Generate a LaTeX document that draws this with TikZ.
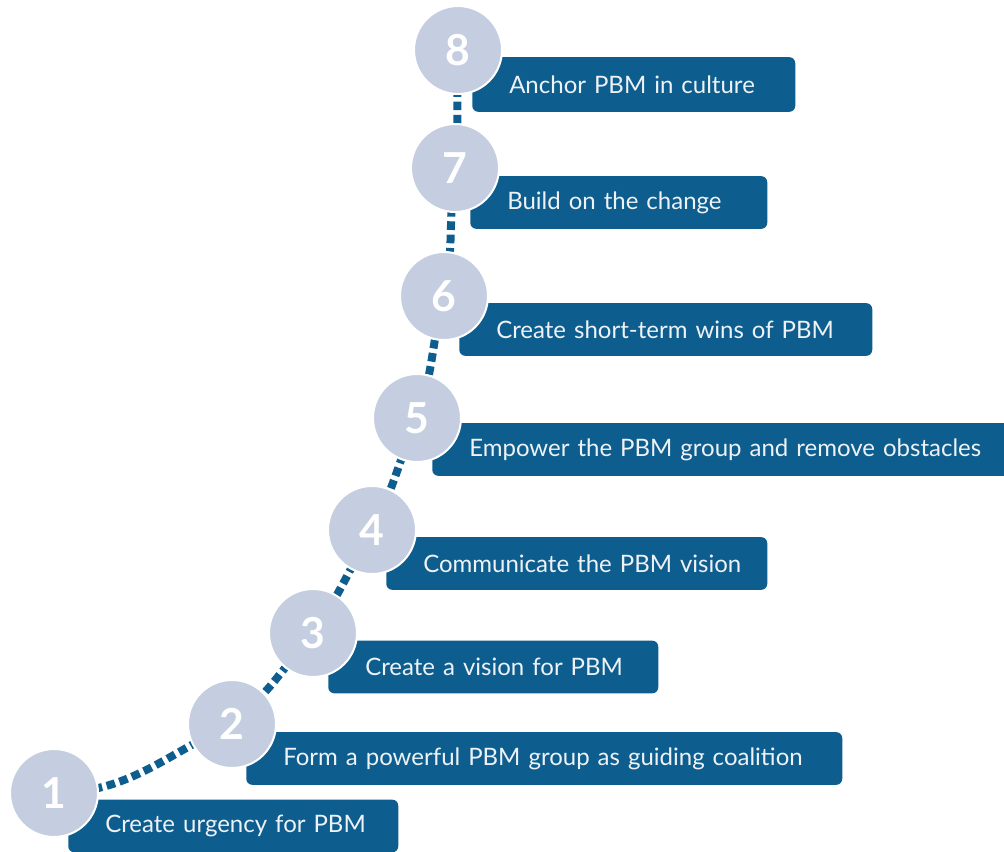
\documentclass[tikz,border=0pt]{standalone}
\usepackage{fontspec}
\setmainfont{Lato}
\pgfdeclarelayer{background}
\pgfsetlayers{background,main}
\definecolor{boxblue}{HTML}{0D5E8E}
\definecolor{circfill}{HTML}{C5CEE1}
\definecolor{boxtext}{HTML}{EEF2F6}
\hfuzz=200pt
\tikzset{
  stepbox/.style={draw=none, fill=boxblue, rounded corners=4.5pt, anchor=west,
    inner xsep=27.75pt, inner ysep=0pt, minimum height=39.5pt, align=left,
    text=boxtext, font=\fontsize{18}{20}\selectfont},
  stepcirc/.style={circle, fill=circfill, draw=white, line width=1.5pt,
    minimum size=66pt, inner sep=0pt, text=white,
    font=\fontsize{32}{32}\selectfont\bfseries},
  dots/.style={draw=boxblue, line width=6pt, dash pattern=on 6.5pt off 3.5pt}
}
\begin{document}
\begin{tikzpicture}[x=0.75pt,y=-0.75pt]
\useasboundingbox (0,0) rectangle (1004,852);
% boxes
\node[stepbox, minimum width=247.5pt, text width=192pt]   (b1) at (68,826)   {\mbox{Create urgency for PBM}};
\node[stepbox, minimum width=447pt,   text width=391.5pt] (b2) at (246,758.5){\mbox{Form a powerful PBM group as guiding coalition}};
\node[stepbox, minimum width=247.5pt, text width=192pt]   (b3) at (328,667)  {\mbox{Create a vision for PBM}};
\node[stepbox, minimum width=285.75pt,text width=230.25pt](b4) at (386,563.5){\mbox{Communicate the PBM vision}};
\node[stepbox, minimum width=435pt,   text width=379.5pt] (b5) at (432,449.5){\mbox{Empower the PBM group and remove obstacles}};
\node[stepbox, minimum width=309.75pt,text width=254.25pt](b6) at (459,329.5){\mbox{Create short-term wins of PBM}};
\node[stepbox, minimum width=222.75pt,text width=167.25pt](b7) at (470,202.5){\mbox{Build on the change}};
\node[stepbox, minimum width=242.25pt,text width=186.75pt,minimum height=41pt](b8) at (472,84.5){\mbox{Anchor PBM in culture}};
% circles
\node[stepcirc] (c1) at (54,793) {1};
\node[stepcirc] (c2) at (232,724) {2};
\node[stepcirc] (c3) at (313,633) {3};
\node[stepcirc] (c4) at (372,530) {4};
\node[stepcirc] (c5) at (417,418) {5};
\node[stepcirc] (c6) at (444,296) {6};
\node[stepcirc] (c7) at (455,168) {7};
\node[stepcirc] (c8) at (458,50) {8};
% dotted path
\begin{pgfonlayer}{background}
\draw[dots] (c1.center) to[out=0,in=205] (c2.center)
  to[out=40,in=230] (c3.center)
  to[out=55,in=240] (c4.center)
  to[out=62,in=247] (c5.center)
  to[out=70,in=255] (c6.center)
  to[out=78,in=262] (c7.center)
  to[out=85,in=268] (c8.center);
\end{pgfonlayer}
\end{tikzpicture}
\end{document}
